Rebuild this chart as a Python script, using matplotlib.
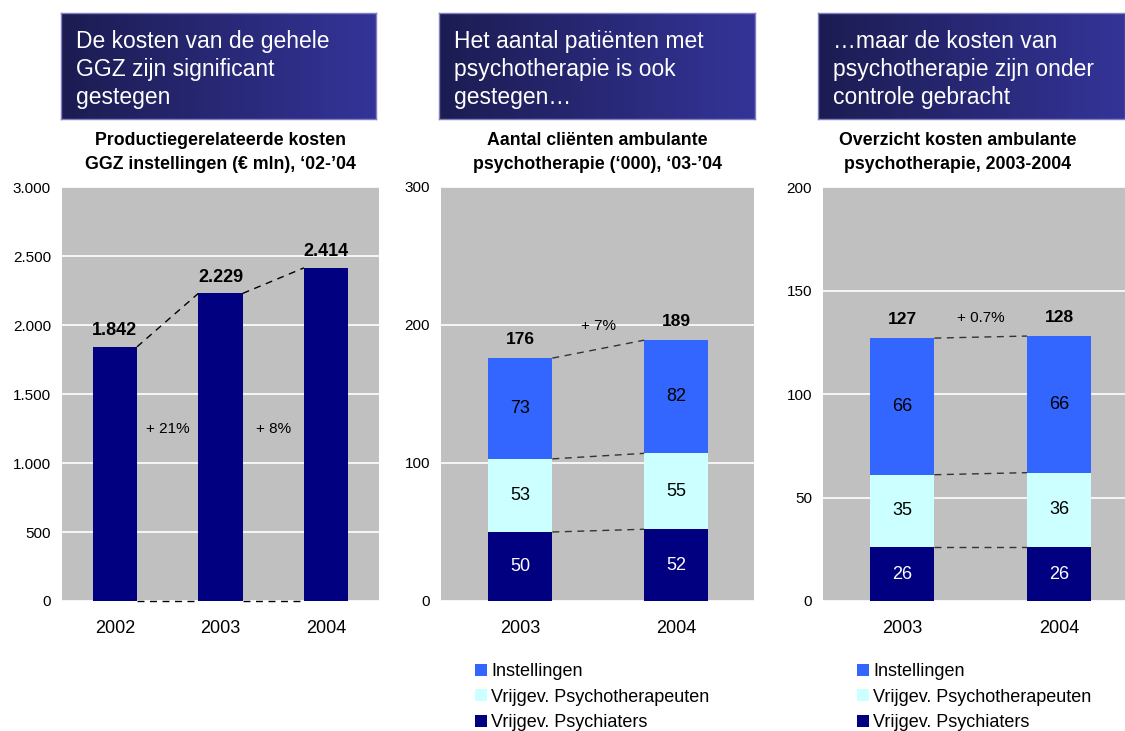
import numpy as np
import matplotlib
matplotlib.use("Agg")
import matplotlib.pyplot as plt
from matplotlib.colors import LinearSegmentedColormap
from matplotlib.patches import Patch

plt.rcParams['font.family'] = ['Liberation Sans', 'DejaVu Sans']

# panel 1: total costs
years_1 = ["2002", "2003", "2004"]
costs = [1842, 2229, 2414]
cost_labels = ["1.842", "2.229", "2.414"]
growth_1 = ["+ 21%", "+ 8%"]

# panel 2 and 3: stacked, bottom to top
years_23 = ["2003", "2004"]
series_names = ["Vrijgev. Psychiaters", "Vrijgev. Psychotherapeuten", "Instellingen"]
clients = {
    "Vrijgev. Psychiaters": [50, 52],
    "Vrijgev. Psychotherapeuten": [53, 55],
    "Instellingen": [73, 82],
}
clients_total = [176, 189]
clients_growth = "+ 7%"

amb_costs = {
    "Vrijgev. Psychiaters": [26, 26],
    "Vrijgev. Psychotherapeuten": [35, 36],
    "Instellingen": [66, 66],
}
amb_total = [127, 128]
amb_growth = "+ 0.7%"

headers = [
    "De kosten van de gehele\nGGZ zijn significant\ngestegen",
    "Het aantal patiënten met\npsychotherapie is ook\ngestegen…",
    "…maar de kosten van\npsychotherapie zijn onder\ncontrole gebracht",
]
titles = [
    "Productiegerelateerde kosten\nGGZ instellingen (€ mln), ‘02-’04",
    "Aantal cliënten ambulante\npsychotherapie (‘000), ‘03-’04",
    "Overzicht kosten ambulante\npsychotherapie, 2003-2004",
]

NAVY = "#000080"
colors = {
    "Vrijgev. Psychiaters": NAVY,
    "Vrijgev. Psychotherapeuten": "#CCFFFF",
    "Instellingen": "#3366FF",
}
text_colors = {
    "Vrijgev. Psychiaters": "white",
    "Vrijgev. Psychotherapeuten": "black",
    "Instellingen": "black",
}
GRAY = "#C0C0C0"

W, H = 1125, 731
fig = plt.figure(figsize=(W / 100, H / 100), dpi=100)


def fx(px):
    return px / W


def fy(py):
    return 1 - py / H


# header boxes with gradient
grad = LinearSegmentedColormap.from_list("hdr", ["#1c1c52", "#343499"])
header_boxes = [(61, 376), (439, 755), (818, 1125)]
for (x0, x1), txt in zip(header_boxes, headers):
    hax = fig.add_axes([fx(x0), fy(119), fx(x1 - x0), (119 - 13) / H])
    hax.imshow(np.linspace(0, 1, 256)[None, :], aspect="auto", cmap=grad,
               extent=[0, 1, 0, 1])
    hax.set_xlim(0, 1)
    hax.set_ylim(0, 1)
    hax.set_xticks([])
    hax.set_yticks([])
    for s in hax.spines.values():
        s.set_color("#8080c0")
        s.set_linewidth(1)
    fig.text(fx(x0 + 15), fy(30), txt, color="white", fontsize=16.5,
             va="top", ha="left", linespacing=1.28)

axes_x = [(62, 379), (441, 754), (823, 1125)]
axs = []
for x0, x1 in axes_x:
    ax = fig.add_axes([fx(x0), fy(601), fx(x1 - x0), (601 - 187) / H])
    ax.set_facecolor(GRAY)
    for s in ax.spines.values():
        s.set_visible(False)
    ax.tick_params(length=0, labelsize=11, pad=8)
    ax.tick_params(axis="x", labelsize=13, pad=14)
    ax.grid(axis="y", color="white", linewidth=1.2)
    ax.set_axisbelow(True)
    axs.append(ax)

for ax, (x0, x1), t in zip(axs, axes_x, titles):
    fig.text(fx((x0 + x1) / 2) if x1 < 1100 else fx(958), fy(132), t,
             ha="center", va="top", fontsize=12.8, fontweight="bold",
             linespacing=1.55)

# ---- panel 1
ax = axs[0]
x = np.arange(len(years_1))
bw = 0.42
ax.bar(x, costs, width=bw, color=NAVY, zorder=3)
ax.set_xlim(-0.5, 2.5)
ax.set_ylim(0, 3000)
ax.set_yticks(np.arange(0, 3001, 500))
ax.set_yticklabels(["0", "500", "1.000", "1.500", "2.000", "2.500", "3.000"])
ax.set_xticks(x)
ax.set_xticklabels(years_1)
for i, (v, lab) in enumerate(zip(costs, cost_labels)):
    ax.text(i, v + 85, lab, ha="center", va="baseline", fontsize=13,
            fontweight="bold")
for i in range(len(costs) - 1):
    ax.plot([i + bw / 2, i + 1 - bw / 2], [costs[i], costs[i + 1]],
            ls=(0, (5, 4)), color="black", lw=1, zorder=4)
    ax.plot([i + bw / 2, i + 1 - bw / 2], [0, 0],
            ls=(0, (5, 4)), color="black", lw=1, zorder=4, clip_on=False)
    ax.text(i + 0.5, 1250, growth_1[i], ha="center", va="center",
            fontsize=11)


def stacked(ax, data, totals, growth, ymax, step, label_off, growth_y):
    x = np.arange(len(years_23))
    bw = 0.41
    bottom = np.zeros(len(years_23))
    for name in series_names:
        vals = np.array(data[name])
        ax.bar(x, vals, width=bw, bottom=bottom, color=colors[name], zorder=3)
        for i, v in enumerate(vals):
            ax.text(i, bottom[i] + v / 2, str(v), ha="center", va="center",
                    fontsize=13, color=text_colors[name], zorder=5)
        bottom = bottom + vals
        ax.plot([bw / 2, 1 - bw / 2], [bottom[0], bottom[1]],
                ls=(0, (5, 4)), color="#333333", lw=1, zorder=4)
    for i, t in enumerate(totals):
        ax.text(i, t + label_off, str(t), ha="center", va="baseline",
                fontsize=12.5, fontweight="bold")
    ax.text(0.5, growth_y, growth, ha="center", va="center", fontsize=11)
    ax.set_ylim(0, ymax)
    ax.set_yticks(np.arange(0, ymax + 1, step))
    ax.set_xticks(x)
    ax.set_xticklabels(years_23)


stacked(axs[1], clients, clients_total, clients_growth, 300, 100, 10, 199)
axs[1].set_xlim(-0.51, 1.5)
stacked(axs[2], amb_costs, amb_total, amb_growth, 200, 50, 7, 136.5)
axs[2].set_xlim(-0.505, 1.42)

# legends
handles = [Patch(facecolor=colors[n], edgecolor="none")
           for n in reversed(series_names)]
labels = list(reversed(series_names))
for lx in (475, 857):
    fig.legend(handles, labels, loc="upper left",
               bbox_to_anchor=(fx(lx), fy(663)), frameon=False,
               fontsize=13, handlelength=0.67, handleheight=0.67,
               handletextpad=0.22, labelspacing=0.48, borderpad=0,
               borderaxespad=0)

fig.savefig("out.png", dpi=100, facecolor="white")
